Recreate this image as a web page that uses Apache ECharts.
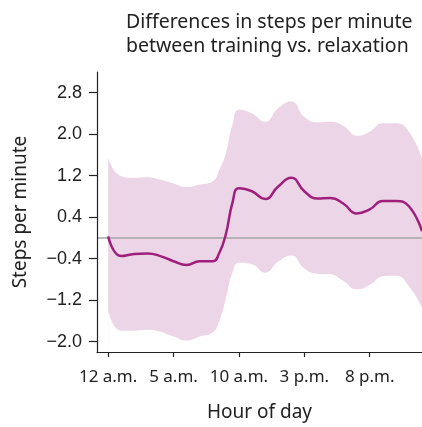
<!DOCTYPE html>
<html>
<head>
<meta charset="UTF-8">
<title>Differences in steps per minute</title>
<script src="https://cdn.jsdelivr.net/npm/echarts@6/dist/echarts.min.js"></script>
<style>
  html, body { margin: 0; padding: 0; background: #fff; }
  #main { width: 422px; height: 427px; }
</style>
</head>
<body>
<div id="main"></div>
<script>
// hour of day (0 = midnight, 24 = next midnight)
var hours = [0, 1, 2, 3, 4, 5, 6, 7, 8, 8.5, 9, 9.5, 10, 11, 12, 13, 14, 15, 16, 17, 18, 19, 20, 21, 22, 23, 24];
// mean difference (training - relaxation)
var meanDiff = [0.03, -0.35, -0.31, -0.30, -0.35, -0.45, -0.52, -0.45, -0.45, -0.29, 0.07, 0.67, 0.96, 0.90, 0.75, 0.99, 1.16, 0.90, 0.76, 0.77, 0.66, 0.47, 0.55, 0.71, 0.71, 0.61, 0.13];
// confidence band
var upperCI = [1.54, 1.19, 1.16, 1.17, 1.12, 1.05, 0.98, 1.03, 1.09, 1.31, 1.63, 2.18, 2.47, 2.40, 2.24, 2.50, 2.63, 2.33, 2.23, 2.24, 2.16, 1.97, 2.05, 2.21, 2.21, 2.05, 1.54];
var lowerCI = [-1.40, -1.79, -1.79, -1.77, -1.81, -1.90, -1.98, -1.90, -1.82, -1.60, -1.17, -0.67, -0.48, -0.51, -0.67, -0.46, -0.34, -0.59, -0.69, -0.70, -0.83, -0.99, -0.91, -0.74, -0.73, -0.93, -1.34];
var xTicks = [0, 5, 10, 15, 20];
var xTickLabels = ['12 a.m.', '5 a.m.', '10 a.m.', '3 p.m.', '8 p.m.'];
var yTicks = [-2.0, -1.2, -0.4, 0.4, 1.2, 2.0, 2.8];

var humanist = '"Noto Sans", "Open Sans", sans-serif';

var myChart = echarts.init(document.getElementById('main'));

var upperData = hours.map(function (h, i) { return [h, upperCI[i]]; });
var lowerData = hours.map(function (h, i) { return [h, lowerCI[i]]; });
var lineData = hours.map(function (h, i) { return [h, meanDiff[i]]; });

myChart.setOption({
    animation: false,
    title: {
        text: 'Differences in steps per minute\nbetween training vs. relaxation',
        left: 121,
        top: 5,
        textStyle: {
            fontFamily: humanist,
            fontWeight: 'normal',
            fontSize: 19.5,
            lineHeight: 24,
            color: '#222'
        }
    },
    grid: { left: 97, right: 0, top: 72, bottom: 74 },
    xAxis: {
        type: 'value',
        min: -0.85,
        max: 24,
        z: 10,
        name: 'Hour of day',
        nameLocation: 'middle',
        nameGap: 51,
        nameTextStyle: { fontFamily: humanist, fontSize: 19, color: '#222' },
        axisLine: { show: true, onZero: false, lineStyle: { color: '#222', width: 1.2 } },
        axisTick: { show: true, length: 5, customValues: xTicks, lineStyle: { color: '#222', width: 1.2 } },
        axisLabel: {
            customValues: xTicks,
            margin: 17,
            fontFamily: humanist,
            fontSize: 17,
            color: '#222',
            formatter: function (v) {
                var i = xTicks.indexOf(v);
                return i >= 0 ? xTickLabels[i] : '';
            }
        },
        splitLine: { show: false }
    },
    yAxis: {
        type: 'value',
        min: -2.2,
        max: 3.2,
        z: 10,
        name: 'Steps per minute',
        nameLocation: 'middle',
        nameRotate: 90,
        nameGap: 67,
        nameTextStyle: { fontFamily: humanist, fontSize: 19, color: '#222' },
        axisLine: { show: true, onZero: false, lineStyle: { color: '#222', width: 1.2 } },
        axisTick: { show: true, length: 8, customValues: yTicks, lineStyle: { color: '#222', width: 1.2 } },
        axisLabel: {
            customValues: yTicks,
            margin: 15,
            fontFamily: '"Liberation Sans", Arial, sans-serif',
            fontSize: 18,
            color: '#222',
            formatter: function (v) {
                return v.toFixed(1).replace('-', '\u2212');
            }
        },
        splitLine: { show: false }
    },
    series: [
        {
            // upper edge of the band, filled down to the axis
            name: 'upper',
            type: 'line',
            smooth: 0.5,
            symbol: 'none',
            lineStyle: { width: 0, opacity: 0 },
            areaStyle: { color: '#ecd5e7', opacity: 1, origin: 'start' },
            data: upperData,
            z: 1
        },
        {
            // lower edge of the band, white below it
            name: 'lower',
            type: 'line',
            smooth: 0.5,
            symbol: 'none',
            lineStyle: { width: 0, opacity: 0 },
            areaStyle: { color: '#ffffff', opacity: 1, origin: 'start' },
            data: lowerData,
            z: 2
        },
        {
            name: 'difference',
            type: 'line',
            smooth: 0.5,
            symbol: 'none',
            lineStyle: { color: '#a01f7d', width: 2.5 },
            data: lineData,
            z: 4,
            markLine: {
                silent: true,
                symbol: 'none',
                label: { show: false },
                lineStyle: { color: '#a6a6a6', type: 'solid', width: 1.5 },
                data: [{ yAxis: 0 }],
                z: 3
            }
        }
    ]
});
</script>
</body>
</html>
